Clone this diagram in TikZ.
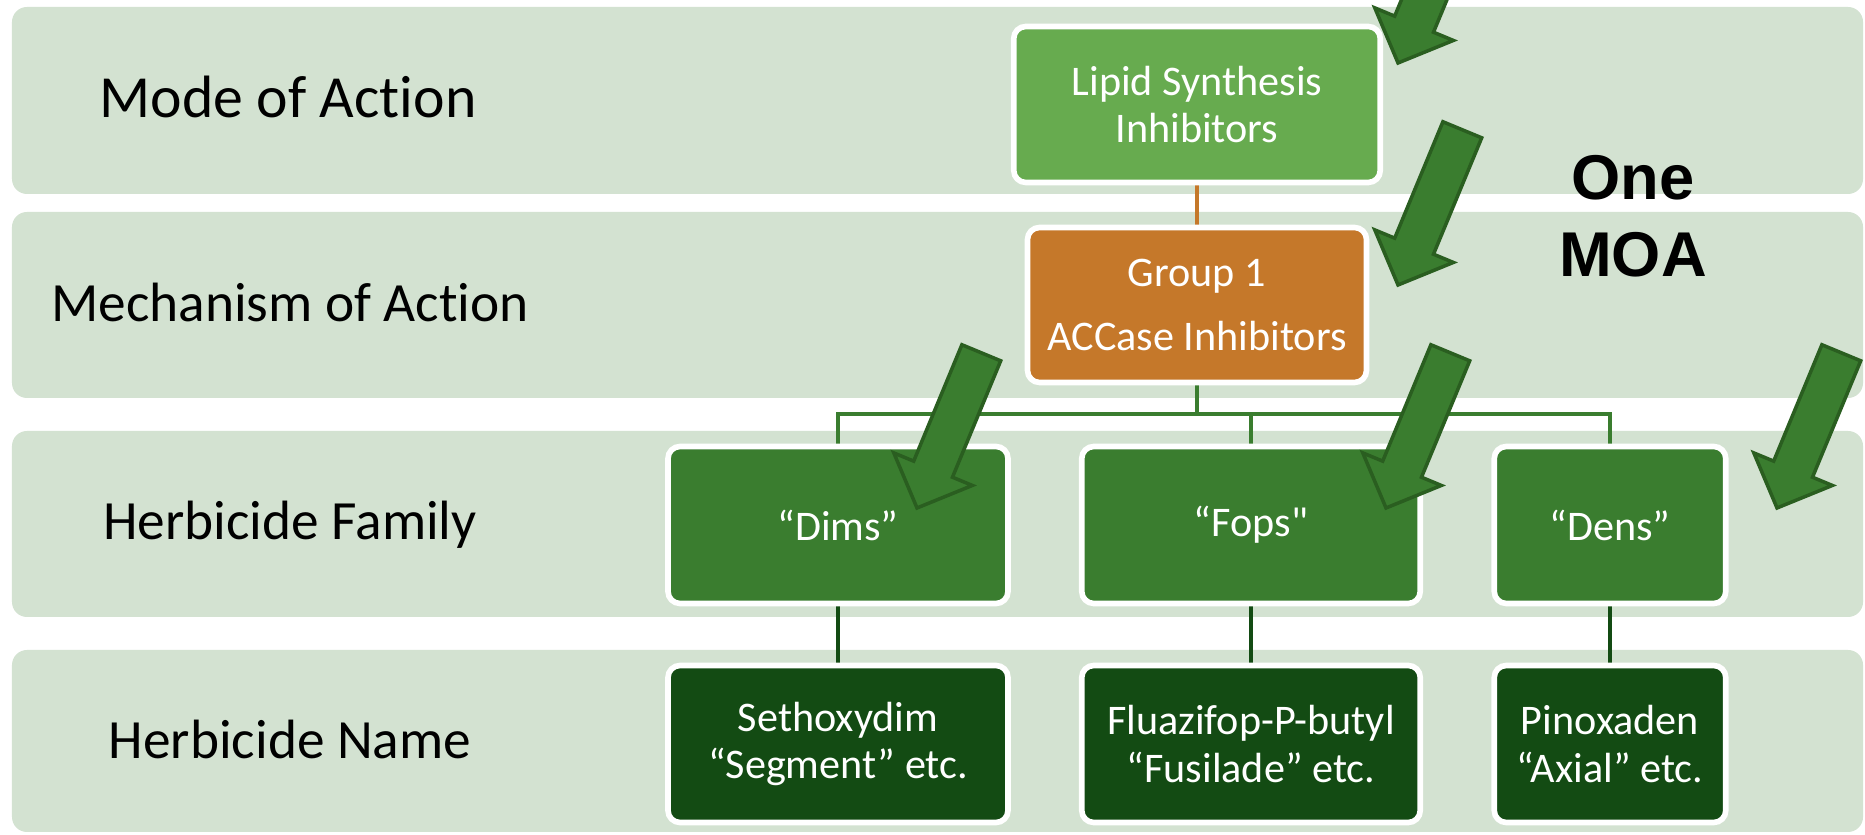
\documentclass[tikz,border=0pt]{standalone}
\usepackage{fontspec}
\setmainfont{Carlito}[Ligatures=NoCommon]
\newfontfamily\plainquote{Carlito}
\newfontfamily\moafont{Liberation Sans}
\usetikzlibrary{backgrounds}

\definecolor{tierfill}{HTML}{D3E2D1}
\definecolor{lipidgreen}{HTML}{67AB4F}
\definecolor{accorange}{HTML}{C5782A}
\definecolor{famgreen}{HTML}{3A7D2F}
\definecolor{namegreen}{HTML}{134B13}
\definecolor{arrowline}{HTML}{2A5E20}

\begin{document}
\begin{tikzpicture}[
	tierband/.style={fill=tierfill, rounded corners=0.15cm},
	tierlabel/.style={anchor=base, inner sep=0, font=\fontsize{15.75}{18}\selectfont},
	catbox/.style={draw=white, line width=1.6pt, rounded corners=0.12cm, text=white,
		align=center, inner sep=0, minimum height=1.57cm, font=\fontsize{12}{13.4}\selectfont},
	link/.style={line width=1.2pt},
	fatarrow/.style={fill=famgreen, draw=arrowline, line width=1pt}]
	\useasboundingbox (0,0) rectangle (18.65,8.35);

	% the four tiers
	\begin{scope}[on background layer]
		\fill[white] (0,0) rectangle (18.65,8.35);
		\fill[tierband] (0.12,6.41) rectangle (18.63,8.28);
		\fill[tierband] (0.12,4.37) rectangle (18.63,6.23);
		\fill[tierband] (0.12,2.18) rectangle (18.63,4.04);
		\fill[tierband] (0.12,0.03) rectangle (18.63,1.85);
	\end{scope}

	\node[tierlabel, font=\fontsize{17}{20}\selectfont] (moalabel) at (2.88,7.17) {Mode of Action};
	\node[tierlabel] (mechlabel) at (2.90,5.13) {Mechanism of Action};
	\node[tierlabel] (famlabel) at (2.90,2.95) {Herbicide Family};
	\node[tierlabel] (namelabel) at (2.90,0.76) {Herbicide Name};

	\node[catbox, fill=lipidgreen, minimum width=3.665cm, minimum height=1.56cm] (lipid) at (11.97,7.305) {Lipid Synthesis\\Inhibitors};
	\node[catbox, fill=accorange, minimum width=3.39cm, minimum height=1.55cm] (group) at (11.97,5.30) {Group 1\\[4.8pt]ACCase Inhibitors};

	\node[catbox, fill=famgreen, minimum width=3.40cm] (dims) at (8.38,3.10) {“Dims”};
	\node[catbox, fill=famgreen, minimum width=3.385cm] (fops) at (12.51,3.10) {“Fops{\plainquote"}};
	\node[catbox, fill=famgreen, minimum width=2.315cm] (dens) at (16.10,3.10) {“Dens”};

	\node[catbox, fill=namegreen, minimum width=3.40cm] (sethoxydim) at (8.38,0.91) {Sethoxydim\\“Segment” etc.};
	\node[catbox, fill=namegreen, minimum width=3.385cm] (fluazifop) at (12.51,0.91) {Fluazifop-P-butyl\\“Fusilade” etc.};
	\node[catbox, fill=namegreen, minimum width=2.315cm] (pinoxaden) at (16.10,0.91) {Pinoxaden\\“Axial” etc.};

	% connectors, kept under the boxes
	\begin{scope}[on background layer]
		\coordinate (bus) at (11.97,4.21);
		\draw[link, accorange] (lipid) -- (group);
		\draw[link, famgreen] (group) -- (bus);
		\draw[link, famgreen] (dims) |- (bus) -| (dens);
		\draw[link, famgreen] (fops) -- (fops |- bus);
		\draw[link, namegreen] (dims) -- (sethoxydim);
		\draw[link, namegreen] (fops) -- (fluazifop);
		\draw[link, namegreen] (dens) -- (pinoxaden);
	\end{scope}

	% block arrows
	\foreach \tx/\ty in {13.98/7.72, 13.98/5.50, 9.17/3.27, 13.86/3.27, 17.77/3.27}
		\draw[fatarrow, shift={(\tx,\ty)}, rotate=247.5] (0,0) -- (-0.42,0.425) -- (-0.42,0.21)
			-- (-1.68,0.21) -- (-1.68,-0.21) -- (-0.42,-0.21) -- (-0.42,-0.425) -- cycle;

	\node[align=center, inner sep=0, font=\moafont\bfseries\fontsize{18}{21.9}\selectfont] (onemoa) at (16.33,6.19) {One\\MOA};
\end{tikzpicture}
\end{document}
